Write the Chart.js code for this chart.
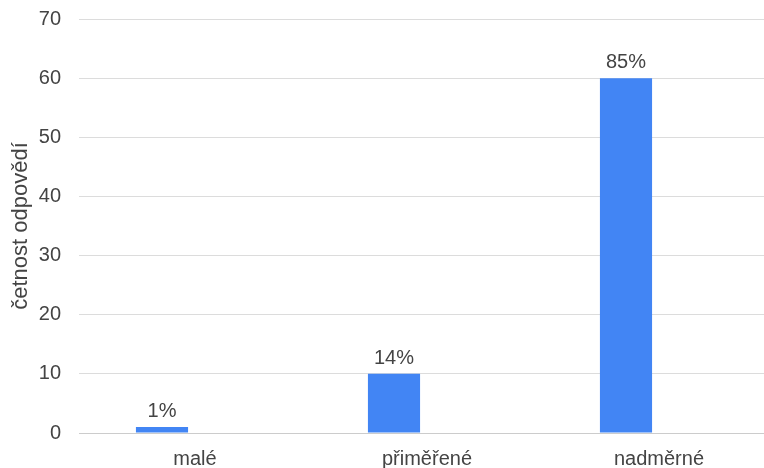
<!DOCTYPE html>
<html>
<head>
<meta charset="utf-8">
<script src="https://cdn.jsdelivr.net/npm/chart.js@4/dist/chart.umd.min.js"></script>
<style>
  html, body { margin: 0; padding: 0; background: #fff; overflow: hidden; }
  #wrap { width: 776px; height: 468px; }
</style>
</head>
<body>
<div id="wrap"><canvas id="c" width="776" height="468"></canvas></div>
<script>
// Response categories and how many answers each received
const categories = ['malé', 'přiměřené', 'nadměrné'];
const counts = [1, 10, 60];
const yTicks = [0, 10, 20, 30, 40, 50, 60, 70];

const total = counts.reduce((a, b) => a + b, 0);
const percentLabels = counts.map(v => Math.round(v / total * 100) + '%');

const FONT = "'Liberation Sans', Arial, sans-serif";
const TEXT = '#444444';

// Percentage shares written above each bar
const valueLabels = {
  id: 'valueLabels',
  afterDatasetsDraw(chart) {
    const ctx = chart.ctx;
    const meta = chart.getDatasetMeta(0);
    ctx.save();
    ctx.font = '20px ' + FONT;
    ctx.fillStyle = TEXT;
    ctx.textAlign = 'center';
    ctx.textBaseline = 'alphabetic';
    meta.data.forEach((bar, i) => {
      ctx.fillText(percentLabels[i], bar.x, bar.y - 10);
    });
    ctx.restore();
  }
};

new Chart(document.getElementById('c'), {
  type: 'bar',
  data: {
    labels: categories,
    datasets: [
      {
        data: counts,
        backgroundColor: '#4285f4',
        categoryPercentage: 0.569,
        barPercentage: 0.79
      },
      {
        // empty companion series keeps the bars to the left of each slot
        data: categories.map(() => null),
        backgroundColor: 'rgba(0,0,0,0)',
        categoryPercentage: 0.569,
        barPercentage: 0.79
      }
    ]
  },
  options: {
    responsive: false,
    animation: false,
    layout: { padding: { top: 19, right: 1, left: 0, bottom: 0 } },
    plugins: {
      legend: { display: false },
      tooltip: { enabled: false }
    },
    scales: {
      x: {
        grid: { display: false, drawTicks: false },
        border: { display: false },
        ticks: {
          color: TEXT,
          font: { family: FONT, size: 20 },
          padding: 14,
          maxRotation: 0
        },
        afterFit(scale) { scale.height = 35; }
      },
      y: {
        min: 0,
        max: 70,
        afterBuildTicks(scale) { scale.ticks = yTicks.map(v => ({ value: v })); },
        grid: {
          color: (c) => c.tick && c.tick.value === 0 ? '#cccccc' : '#dcdcdc',
          lineWidth: 1,
          drawTicks: false
        },
        border: { display: false },
        ticks: {
          color: TEXT,
          font: { family: FONT, size: 20 },
          padding: 18
        },
        title: {
          display: true,
          text: 'četnost odpovědí',
          color: TEXT,
          font: { family: FONT, size: 22 },
          padding: { top: 8, bottom: 0 }
        },
        afterFit(scale) {
          scale.width = 79;
          scale.paddingTop = 0;
          scale.paddingBottom = 0;
        }
      }
    }
  },
  plugins: [valueLabels]
});
</script>
</body>
</html>
